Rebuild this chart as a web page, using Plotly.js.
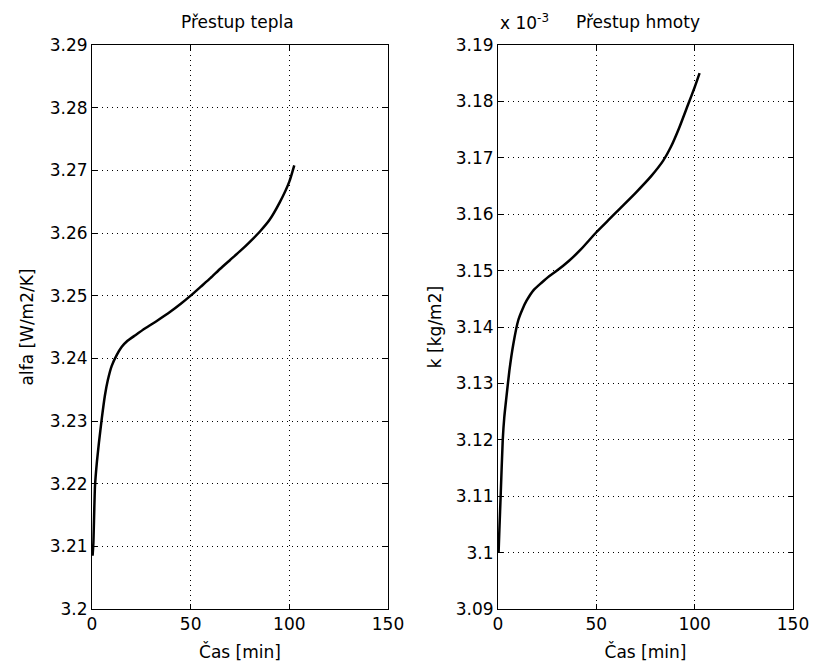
<!DOCTYPE html>
<html>
<head>
<meta charset="utf-8">
<script src="https://cdn.plot.ly/plotly-3.0.1.min.js"></script>
<style>html,body{margin:0;padding:0;background:#fff;}#chart{width:814px;height:668px;}</style>
</head>
<body>
<div id="chart"></div>
<script>
// Left panel: heat transfer coefficient
const timeHeat = [0.3, 0.7, 1.5, 2.5, 3.5, 5, 6.5, 8, 10, 12.5, 15, 18, 22, 27, 33, 40, 45, 50, 55, 60, 65, 70, 75, 80, 85, 90, 95, 100, 102.5];
const alfa = [3.2085, 3.2105, 3.2195, 3.2235, 3.2265, 3.2305, 3.2340, 3.2365, 3.2388, 3.2405, 3.2418, 3.2428, 3.2437, 3.2448, 3.2460, 3.2475, 3.2487, 3.2500, 3.2514, 3.2528, 3.2543, 3.2557, 3.2571, 3.2586, 3.2602, 3.2621, 3.2648, 3.2682, 3.2708];

// Right panel: mass transfer coefficient (values in units of 1e-3)
const timeMass = [0.3, 0.7, 1.4, 2.4, 3.2, 4.1, 5.8, 7.8, 10.3, 12.5, 14.6, 18, 22, 26, 30, 36, 42, 50, 56, 62, 70, 78, 84, 88, 92, 96.7, 100, 102.5];
const kMass = [3.1000, 3.1040, 3.1105, 3.1199, 3.1240, 3.1270, 3.1323, 3.1370, 3.1412, 3.1432, 3.1447, 3.1465, 3.1478, 3.1490, 3.1500, 3.1517, 3.1537, 3.1568, 3.1589, 3.1610, 3.1638, 3.1668, 3.1695, 3.1720, 3.1752, 3.1795, 3.1825, 3.1850];

const xTicks = [0, 50, 100, 150];
const yTicksHeat = [3.2, 3.21, 3.22, 3.23, 3.24, 3.25, 3.26, 3.27, 3.28, 3.29];
const yTicksMass = [3.09, 3.1, 3.11, 3.12, 3.13, 3.14, 3.15, 3.16, 3.17, 3.18, 3.19];

const FONT = {family: 'DejaVu Sans, sans-serif', size: 17, color: '#000'};
const W = 814, H = 668;

function xAxis(domain) {
  return {
    domain: domain, range: [0, 150], tickvals: xTicks, ticktext: xTicks.map(String),
    showline: true, linecolor: '#000', linewidth: 1, mirror: 'ticks',
    ticks: 'inside', ticklen: 5, tickcolor: '#000',
    showgrid: true, gridcolor: '#000', gridwidth: 1, griddash: '1px,4px',
    zeroline: false, tickfont: FONT,
    title: {text: 'Čas [min]', font: FONT, standoff: 12},
    automargin: false
  };
}
function yAxis(domain, anchor, range, ticks, title, standoff) {
  return {
    domain: domain, anchor: anchor, range: range, tickvals: ticks, ticktext: ticks.map(String),
    showline: true, linecolor: '#000', linewidth: 1, mirror: 'ticks',
    ticks: 'inside', ticklen: 5, tickcolor: '#000',
    showgrid: true, gridcolor: '#000', gridwidth: 1, griddash: '1px,4px',
    zeroline: false, tickfont: FONT,
    title: {text: title, font: FONT, standoff: standoff},
    automargin: false
  };
}

const yDom = [1 - 609 / H, 1 - 45 / H];
const layout = {
  width: W, height: H,
  margin: {l: 0, r: 0, t: 0, b: 0},
  paper_bgcolor: '#fff', plot_bgcolor: '#fff',
  showlegend: false,
  font: FONT,
  xaxis: xAxis([92 / W, 388 / W]),
  yaxis: yAxis(yDom, 'x', [3.2, 3.29], yTicksHeat, 'alfa [W/m2/K]', 11),
  xaxis2: Object.assign(xAxis([498 / W, 793 / W]), {anchor: 'y2'}),
  yaxis2: yAxis(yDom, 'x2', [3.09, 3.19], yTicksMass, 'k [kg/m2]', 9),
  annotations: [
    {text: 'Přestup tepla', x: 238 / W, y: 1 - 22 / H, xref: 'paper', yref: 'paper', showarrow: false, font: FONT, xanchor: 'center', yanchor: 'middle'},
    {text: 'Přestup hmoty', x: 638 / W, y: 1 - 22 / H, xref: 'paper', yref: 'paper', showarrow: false, font: FONT, xanchor: 'center', yanchor: 'middle'},
    {text: 'x 10<sup>-3</sup>', x: 498 / W, y: 1 - 22 / H, xref: 'paper', yref: 'paper', showarrow: false, font: FONT, xanchor: 'left', yanchor: 'middle'}
  ]
};

const data = [
  {x: timeHeat, y: alfa, xaxis: 'x', yaxis: 'y', type: 'scatter', mode: 'lines', line: {color: '#000', width: 2.5, shape: 'spline', smoothing: 0.5}, hoverinfo: 'skip'},
  {x: timeMass, y: kMass, xaxis: 'x2', yaxis: 'y2', type: 'scatter', mode: 'lines', line: {color: '#000', width: 2.5, shape: 'spline', smoothing: 0.5}, hoverinfo: 'skip'}
];

Plotly.newPlot('chart', data, layout, {staticPlot: true, displayModeBar: false});
</script>
</body>
</html>
